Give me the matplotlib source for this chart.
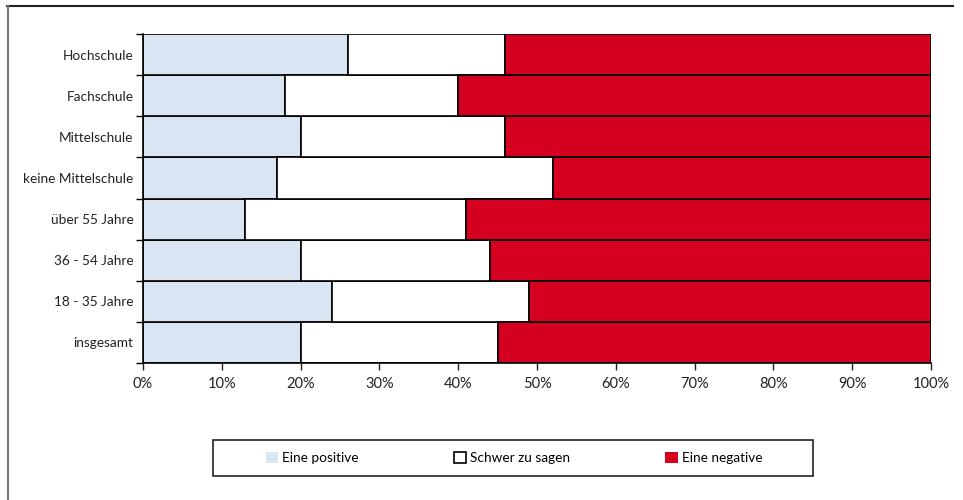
import matplotlib.pyplot as plt
from matplotlib.lines import Line2D
from matplotlib.patches import Patch, Rectangle
from matplotlib.ticker import FixedLocator, PercentFormatter
import numpy as np

plt.rcParams['font.family'] = ['Lato', 'DejaVu Sans']

# bottom to top
groups = ["insgesamt", "18 - 35 Jahre", "36 - 54 Jahre", "über 55 Jahre",
          "keine Mittelschule", "Mittelschule", "Fachschule", "Hochschule"]
positive = [20, 24, 20, 13, 17, 20, 18, 26]
unsure = [25, 25, 24, 28, 35, 26, 22, 20]
negative = [55, 51, 56, 59, 48, 54, 60, 54]

series_names = ["Eine positive", "Schwer zu sagen", "Eine negative"]
colors = ["#dae5f4", "#ffffff", "#d5001f"]

fig = plt.figure(figsize=(9.63, 5), dpi=100)
ax = fig.add_axes([143/963, 1 - 363/500, 788/963, 329/500])

y = np.arange(len(groups))
left = np.zeros(len(groups))
for vals, col in zip([positive, unsure, negative], colors):
    ax.barh(y, vals, left=left, height=1.0, color=col,
            edgecolor="black", linewidth=1.2)
    left += np.array(vals)

ax.set_xlim(0, 100)
ax.set_ylim(-0.5, len(groups) - 0.5)
ax.xaxis.set_major_locator(FixedLocator(np.arange(0, 101, 10)))
ax.xaxis.set_major_formatter(PercentFormatter(decimals=0))
ax.set_yticks(y)
ax.set_yticklabels(groups)
ax.yaxis.set_minor_locator(FixedLocator(np.arange(-0.5, len(groups), 1)))
ax.tick_params(axis="y", which="major", length=0, pad=7, labelsize=9.8, colors="#222222")
ax.tick_params(axis="y", which="minor", length=5, width=1, direction="out")
ax.tick_params(axis="x", length=5, width=1, direction="out", labelsize=10.5, pad=5,
               colors="#222222")
for side in ["top", "right"]:
    ax.spines[side].set_visible(False)
for side in ["left", "bottom"]:
    ax.spines[side].set_linewidth(1.2)

# outer frame: top and left lines only
fig.add_artist(Line2D([7/963, 953/963], [1 - 6/500, 1 - 6/500], color="#222222", lw=1.5))
fig.add_artist(Line2D([7.5/963, 7.5/963], [0, 1 - 6/500], color="#777777", lw=1.5))

# legend box
fig.add_artist(Rectangle((213/963, 1 - 476/500), 600/963, 36/500, transform=fig.transFigure,
                         facecolor="white", edgecolor="#222222", linewidth=1.2))
handles = [
    Patch(facecolor=colors[0], edgecolor="none"),
    Patch(facecolor=colors[1], edgecolor="black", linewidth=1.2),
    Patch(facecolor=colors[2], edgecolor="none"),
]
fig.legend(handles, series_names, ncol=3, loc="center",
           bbox_to_anchor=(514/963, 1 - 458/500), frameon=False,
           handlelength=0.9, handleheight=0.9, handletextpad=0.3,
           fontsize=9.8, columnspacing=7.0)

fig.savefig("out.png", dpi=100)
